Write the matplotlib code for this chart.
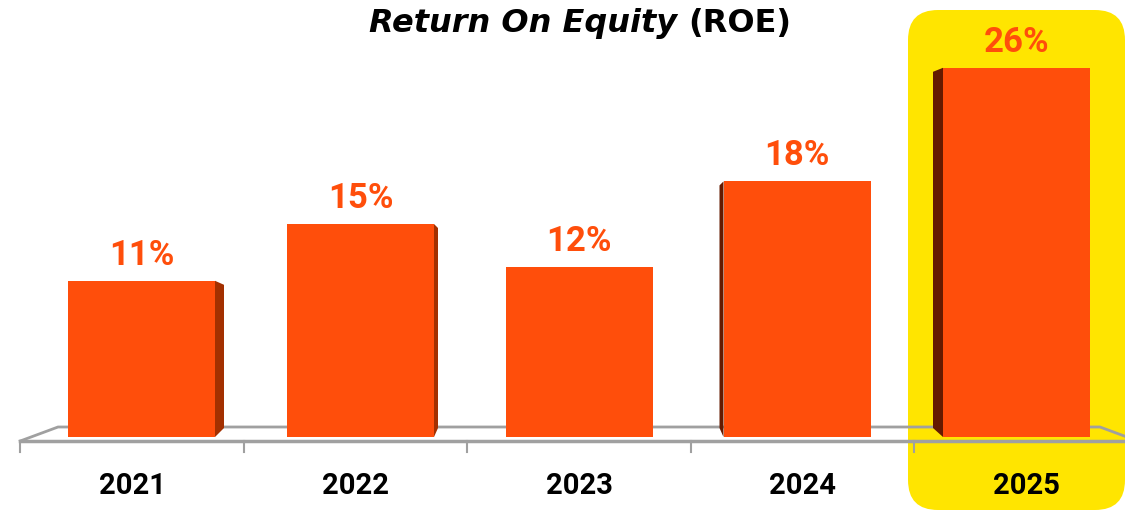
import matplotlib.pyplot as plt
import numpy as np
from matplotlib.patches import Polygon, FancyBboxPatch
from matplotlib.transforms import IdentityTransform

# data
years = ['2021', '2022', '2023', '2024', '2025']
roe = [11, 15, 12, 18, 26]
roe_labels = ['11%', '15%', '12%', '18%', '26%']
highlight = '2025'

# colours
ORANGE = '#FF4E0B'
SIDE_R = '#A33000'
SIDE_L = '#641A00'
YELLOW = '#FFE500'
GREY = '#A0A0A0'

# pixel -> data scale (category i at x=i, values in %)
px_cat = 223.5
x0_px = 132
px_pct = 14.2
base_px = 437
W, H = 1125, 511

plt.rcParams['font.family'] = ['Roboto', 'DejaVu Sans']

fig = plt.figure(figsize=(W / 100, H / 100), dpi=100)
ax = fig.add_axes([0, 0, 1, 1])
ax.set_xlim(-x0_px / px_cat, (W - x0_px) / px_cat)
ax.set_ylim((base_px - H) / px_pct, base_px / px_pct)
ax.axis('off')

# yellow highlight box behind the last year
hi = years.index(highlight)
hx = x0_px + hi * px_cat - 118
ax.add_patch(FancyBboxPatch((hx, 1), 217, 500, boxstyle='round,pad=0,rounding_size=30',
                            transform=IdentityTransform(), facecolor=YELLOW,
                            edgecolor='none', zorder=0, clip_on=False))

# floor (perspective plane)
f_front = -4 / px_pct
f_back = 10 / px_pct
floor_x = [-0.5, -0.331, 4.331, 4.5]
floor_y = [f_front, f_back, f_back, f_front]
ax.plot(floor_x, floor_y, color=GREY, lw=2, zorder=1, solid_joinstyle='miter')
ax.plot([-0.5, 4.5], [f_front, f_front], color=GREY, lw=2.5, zorder=1)
for t in np.arange(-0.5, 4.5, 1.0):
    ax.plot([t, t], [f_front, f_front - 11 / px_pct], color=GREY, lw=1.5, zorder=1)

# bars with side faces
x = np.arange(len(years))
shift = np.array([9.5, 5, 0, -5.5, -9.5]) / px_cat
depth = np.array([9, 4, 0, 4, 10]) / px_cat
bw = 147 / px_cat
xc = x + shift
ax.bar(xc, roe, width=bw, color=ORANGE, zorder=3)

back_base = 9 / px_pct
top_drop = 4 / px_pct
for i, v in enumerate(roe):
    ax.text(xc[i], v + 1.8, roe_labels[i], ha='center', va='center', fontsize=25,
            fontweight='bold', color=ORANGE, zorder=4)
    if depth[i] == 0:
        continue
    if i < 2:
        xe = xc[i] + bw / 2
        xb = xe + depth[i]
        col = SIDE_R
    else:
        xe = xc[i] - bw / 2
        xb = xe - depth[i]
        col = SIDE_L
    ax.add_patch(Polygon([(xe, 0), (xe, v), (xb, v - top_drop), (xb, back_base)],
                         closed=True, facecolor=col, edgecolor='none', zorder=2))

# year labels
for i, y in enumerate(years):
    ax.text(i, (base_px - 486) / px_pct, y, ha='center', va='center', fontsize=21,
            fontweight='bold', color='black', zorder=4)

# title
ty = 1 - 23 / H
fig.text(677 / W, ty, 'Return On Equity', ha='right', va='center', fontsize=23,
         fontweight='bold', fontstyle='italic', color='black', family='DejaVu Sans')
fig.text(688 / W, ty, '(ROE)', ha='left', va='center', fontsize=23,
         fontweight='bold', color='black', family='DejaVu Sans')

fig.savefig('out.png', dpi=100)
